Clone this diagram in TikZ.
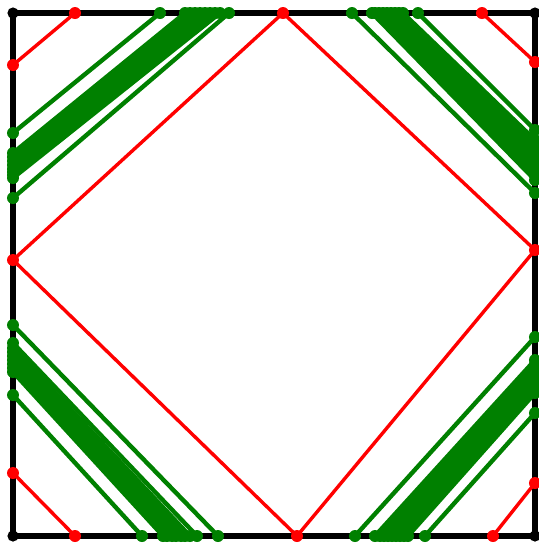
\documentclass[tikz,border=0pt]{standalone}
\usepackage{xcolor}
\usetikzlibrary{calc}
\definecolor{plotgreen}{RGB}{0,128,0}
\definecolor{plotred}{RGB}{255,0,0}

\begin{document}
\begin{tikzpicture}[
  x=0.5pt, y=-0.5pt,
  frame/.style  = {draw=black, line width=2.6pt},
  redln/.style  = {draw=plotred, line width=1.7pt},
  grnln/.style  = {draw=plotgreen, line width=2.2pt},
  reddot/.style = {fill=plotred},
  grndot/.style = {fill=plotgreen},
  blkdot/.style = {fill=black}
]
\useasboundingbox (0,0) rectangle (539,543);

% ---- box ------------------------------------------------------------------
\coordinate (nw) at (13,13);
\coordinate (ne) at (535,13);
\coordinate (se) at (535,536);
\coordinate (sw) at (13,536);
\draw[frame] (nw) -- (ne) -- (se) -- (sw) -- cycle;
\foreach \c in {nw,ne,se,sw}
  \fill[blkdot] (\c) circle (2.8pt);

% ---- green bands, one per corner ------------------------------------------
% top edge x / left edge y
\foreach \tx/\ly in {160/133,185/153,190/157,195/161,200/165,205/169,
                     210/172,215/175,220/178,229/198} {
  \draw[grnln] (\tx,13) -- (13,\ly);
  \fill[grndot] (\tx,13) circle (3pt) (13,\ly) circle (3pt);
}
% top edge x / right edge y
\foreach \tx/\ry in {418/130,403/140,399/145,395/150,391/155,387/160,
                     383/165,379/170,375/175,372/180,352/193} {
  \draw[grnln] (\tx,13) -- (535,\ry);
  \fill[grndot] (\tx,13) circle (3pt) (535,\ry) circle (3pt);
}
% left edge y / bottom edge x
\foreach \ly/\bx in {395/142,372/163,368/167,364/172,360/176,356/181,
                     352/185,348/190,343/197,325/218} {
  \draw[grnln] (13,\ly) -- (\bx,536);
  \fill[grndot] (13,\ly) circle (3pt) (\bx,536) circle (3pt);
}
% bottom edge x / right edge y
\foreach \bx/\ry in {425/413,408/393,404/389,400/385,396/380,392/376,
                     388/372,384/368,380/364,375/360,355/337} {
  \draw[grnln] (\bx,536) -- (535,\ry);
  \fill[grndot] (\bx,536) circle (3pt) (535,\ry) circle (3pt);
}

% ---- red orbit ------------------------------------------------------------
\coordinate (rt) at (283,13);
\coordinate (rl) at (13,260);
\coordinate (rb) at (297,536);
\coordinate (rr) at (535,250);
\draw[redln] (rt) -- (rl) -- (rb) -- (rr) -- cycle;

\draw[redln] (75,13) -- (13,65);
\draw[redln] (482,13) -- (535,62);
\draw[redln] (13,473) -- (75,536);
\draw[redln] (493,536) -- (535,483);

\foreach \p in {(rt),(rl),(rb),(rr),(75,13),(13,65),(482,13),(535,62),
                (13,473),(75,536),(493,536),(535,483)}
  \fill[reddot] \p circle (3pt);

\end{tikzpicture}
\end{document}
